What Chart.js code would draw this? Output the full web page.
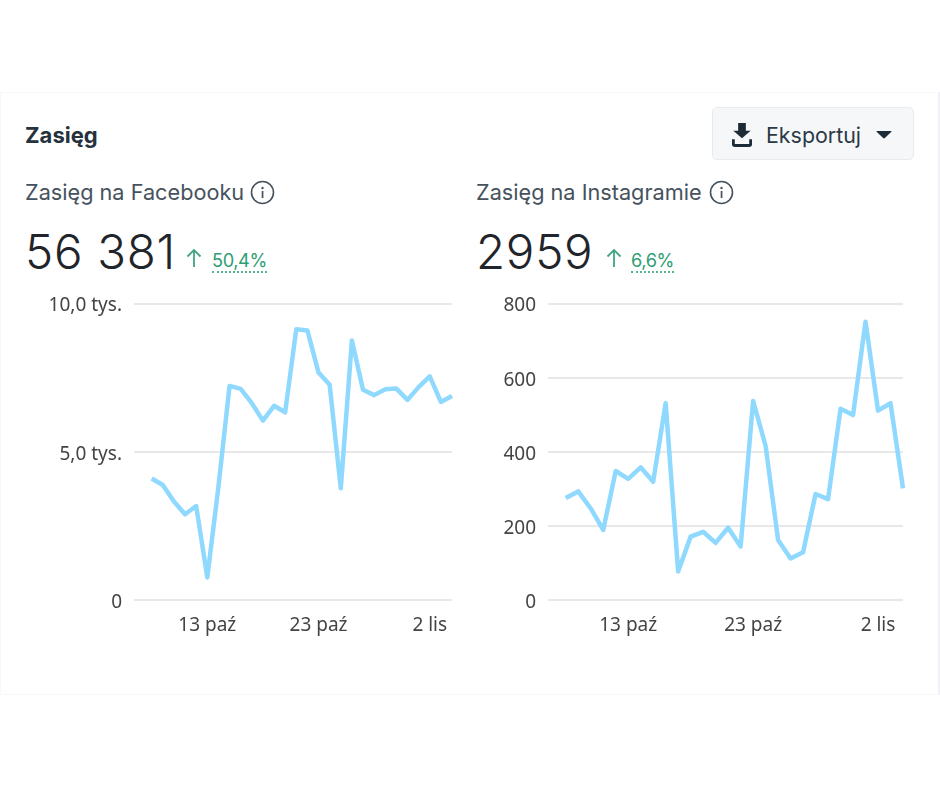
<!DOCTYPE html>
<html lang="pl"><head><meta charset="utf-8">
<script src="https://cdn.jsdelivr.net/npm/chart.js@4"></script>
<style>
html,body{margin:0;padding:0;background:#fff;width:940px;height:788px;overflow:hidden}
body{position:relative;font-family:"Noto Sans",sans-serif}
#card{position:absolute;left:0;top:92px;width:937px;height:601px;border:solid #f8f8f9;border-width:1px 2px 1px 1px;border-right-color:#eff1f6}
.t{position:absolute;white-space:nowrap;line-height:1}
#title{left:25px;top:122px;font:700 22px "Inter";color:#25323d;letter-spacing:0}
.sub{top:179px;font:400 21.7px "Inter";color:#46525d;letter-spacing:0}
.big{top:223px;font:300 47.5px "Inter";color:#1f252b;letter-spacing:.7px}
.pct{top:249px;font:400 18.2px "Inter";color:#2f9e75;border-bottom:2px dotted #54b58f;letter-spacing:-.4px}
#btn{position:absolute;left:712px;top:107px;width:202px;height:53px;box-sizing:border-box;border:1px solid #e8ebee;border-radius:5px;background:#f5f7f9}
#btnt{left:766px;top:122px;font:400 21.4px "Inter";color:#2c3944}
svg{position:absolute}
canvas{position:absolute}
</style></head><body>
<div id="card"></div>
<div class="t" id="title">Zasięg</div>
<div id="btn"></div>
<svg style="left:732px;top:122px" width="20" height="25" viewBox="0 0 20 26"><path d="M6 1h8v8h5l-9 8-9-8h5z" fill="#1c2b36"/><path d="M1 18v5a1.5 1.5 0 0 0 1.5 1.5h15A1.5 1.5 0 0 0 19 23v-5" fill="none" stroke="#1c2b36" stroke-width="3"/></svg>
<div class="t" id="btnt">Eksportuj</div>
<svg style="left:876px;top:130px" width="16" height="9" viewBox="0 0 18 10"><path d="M1 1h16q1 0 .3 1L10 9q-1 1-2 0L.7 2Q0 1 1 1z" fill="#1c2b36"/></svg>

<div class="t sub" style="left:25px">Zasięg na Facebooku</div>
<svg style="left:250px;top:180px" width="25" height="25" viewBox="0 0 25 25"><circle cx="12.5" cy="12.5" r="11" fill="none" stroke="#46525d" stroke-width="1.6"/><circle cx="12.5" cy="8" r="1.2" fill="#46525d"/><rect x="11.7" y="11" width="1.7" height="7" fill="#46525d"/></svg>
<div class="t big" style="left:25px">56 381</div>
<svg style="left:185px;top:247px" width="18" height="22" viewBox="0 0 18 22"><path d="M9 20V3M2.5 9.5L9 3l6.5 6.5" fill="none" stroke="#3fa582" stroke-width="1.8"/></svg>
<div class="t pct" style="left:212px">50,4%</div>

<div class="t sub" style="left:476px">Zasięg na Instagramie</div>
<svg style="left:709px;top:180px" width="25" height="25" viewBox="0 0 25 25"><circle cx="12.5" cy="12.5" r="11" fill="none" stroke="#46525d" stroke-width="1.6"/><circle cx="12.5" cy="8" r="1.2" fill="#46525d"/><rect x="11.7" y="11" width="1.7" height="7" fill="#46525d"/></svg>
<div class="t big" style="left:476px">2959</div>
<svg style="left:605px;top:247px" width="18" height="22" viewBox="0 0 18 22"><path d="M9 20V3M2.5 9.5L9 3l6.5 6.5" fill="none" stroke="#3fa582" stroke-width="1.8"/></svg>
<div class="t pct" style="left:631px">6,6%</div>

<canvas id="fb" style="left:20px;top:290px;width:440px;height:350px" width="440" height="350"></canvas>
<canvas id="ig" style="left:480px;top:290px;width:440px;height:350px" width="440" height="350"></canvas>
<script>
const dayIndex = [0,1,2,3,4,5,6,7,8,9,10,11,12,13,14,15,16,17,18,19,20,21,22,23,24,25,26,27];
const facebookReach = [4100,3880,3320,2890,3170,760,3820,7220,7120,6640,6050,6550,6330,9130,9090,7670,7260,3770,8750,7090,6910,7110,7130,6750,7180,7540,6680,6880];
const instagramReach = [275,293,247,189,348,327,358,319,531,77,171,184,154,195,144,537,416,162,112,129,286,272,516,499,751,511,531,301];
const xTickIndex = [5,15,25];
const xTickLabels = ["13 paź","23 paź","2 lis"];
const fbTicks = [0,5000,10000];
const fbTickLabels = ["0","5,0 tys.","10,0 tys."];
const igTicks = [0,200,400,600,800];
const lineColor = "#8fd9ff";
const gridColor = "#e8e8e8";
const tickColor = "#444444";
const tickFont = {family:"Noto Sans",size:19};

function makeChart(id, values, yTicks, yLabels, yMax, xMin, pad, yw){
  new Chart(document.getElementById(id), {
    type:"line",
    data:{datasets:[{data:values.map((v,i)=>({x:dayIndex[i],y:v})),borderColor:lineColor,borderWidth:4.5,pointRadius:0,tension:0,fill:false,clip:false,borderJoinStyle:"round",borderCapStyle:"butt"}]},
    options:{
      responsive:false,animation:false,devicePixelRatio:1,
      layout:{padding:pad},
      plugins:{legend:{display:false},tooltip:{enabled:false}},
      scales:{
        x:{type:"linear",min:xMin,max:27,
          grid:{display:false},border:{display:false},
          afterBuildTicks:a=>{a.ticks=xTickIndex.map(v=>({value:v}))},
          afterFit:a=>{a.height=40;a.paddingLeft=0;a.paddingRight=0},
          ticks:{autoSkip:false,maxRotation:0,padding:6,color:tickColor,font:tickFont,callback:v=>xTickLabels[xTickIndex.indexOf(v)]}},
        y:{type:"linear",min:0,max:yMax,
          afterFit:a=>{a.width=yw;a.paddingTop=0;a.paddingBottom=0},
          grid:{color:gridColor,lineWidth:2,drawTicks:false},border:{display:false},
          afterBuildTicks:a=>{a.ticks=yTicks.map(v=>({value:v}))},
          ticks:{autoSkip:false,padding:12,labelOffset:2.5,color:tickColor,font:tickFont,callback:v=>yLabels?yLabels[yTicks.indexOf(v)]:String(v)}}
      }
    }
  });
}
makeChart("fb",facebookReach,fbTicks,fbTickLabels,10000,-1.59,{left:0,right:8,top:13.5,bottom:0},114);
makeChart("ig",instagramReach,igTicks,null,800,-1.42,{left:0,right:17,top:13.5,bottom:0},68);
</script>
</body></html>
